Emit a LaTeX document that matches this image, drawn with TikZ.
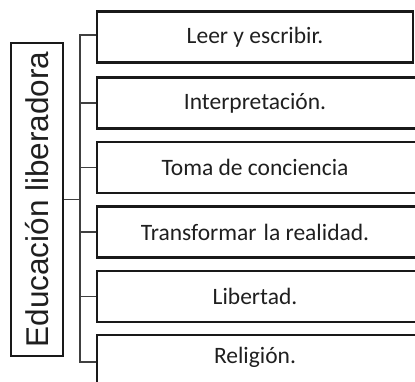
\documentclass[tikz,border=0pt]{standalone}
\usepackage{fontspec}
\setmainfont{Carlito}
\newfontfamily\mainlabel{Liberation Sans}
\begin{document}
\begin{tikzpicture}[x=1pt,y=-1pt,
  boxstyle/.style={draw=black!90, line width=2.8pt, rectangle, inner sep=0pt,
    minimum height=51pt},
  lbl/.style={text=black!88, font=\fontsize{23.5}{25}\selectfont},
  mainstyle/.style={draw=black!90, line width=2.8pt, rectangle, inner sep=0pt,
    minimum width=52pt, minimum height=313pt, text=black!88},
  conn/.style={draw=black!75, line width=1.2pt}]
\useasboundingbox (0,0) rectangle (415,382);
\begin{scope}
\clip (0,0) rectangle (415,382);
\node[mainstyle] (m) at (37,199.5) {\rotatebox{90}{\mainlabel\fontsize{31.5}{33}\selectfont Educación liberadora}};
\node[boxstyle, minimum width=316pt] (b1) at (255,37) {};
\node[boxstyle, minimum width=336pt] (b2) at (265,103) {};
\node[boxstyle, minimum width=336pt] (b3) at (265,167.5) {};
\node[boxstyle, minimum width=336pt] (b4) at (265,232) {};
\node[boxstyle, minimum width=336pt] (b5) at (265,296.5) {};
\node[boxstyle, minimum width=336pt, minimum height=54pt] (b6) at (265,362) {};
\node[lbl] (t1) at (255,37) {Leer y escribir.};
\node[lbl] (t2) at (255,103) {Interpretación.};
\node[lbl] (t3) at (255,167.5) {Toma de conciencia};
\node[lbl] (t4) at (255,232) {Transformar\hspace{0.3em}la realidad.};
\node[lbl] (t5) at (255,296.5) {Libertad.};
\node[lbl] (t6) at (255,357) {Religión.};
\coordinate (sp) at (80,0);
\draw[conn] ([yshift=2pt]b1.west) -- ([yshift=2pt]b1.west -| sp) -- (b6.west -| sp) -- (b6.west);
\draw[conn] (b2.west) -- (b2.west -| sp);
\draw[conn] (b3.west) -- (b3.west -| sp);
\draw[conn] (b4.west) -- (b4.west -| sp);
\draw[conn] (b5.west) -- (b5.west -| sp);
\draw[conn] (m.east) -- (m.east -| sp);
\end{scope}
\end{tikzpicture}
\end{document}
